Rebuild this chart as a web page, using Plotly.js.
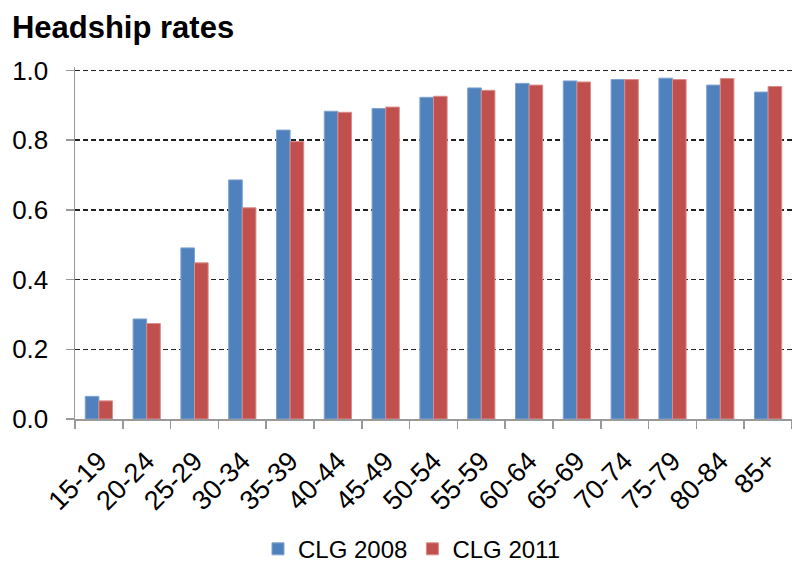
<!DOCTYPE html>
<html>
<head>
<meta charset="utf-8">
<script src="https://cdn.plot.ly/plotly-3.0.1.min.js"></script>
<style>html,body{margin:0;padding:0;background:#fff;}#chart{width:792px;height:566px;}</style>
</head>
<body>
<div id="chart"></div>
<script>
const categories = ["15-19","20-24","25-29","30-34","35-39","40-44","45-49","50-54","55-59","60-64","65-69","70-74","75-79","80-84","85+"];
const clg2008 = [0.065,0.287,0.491,0.686,0.829,0.883,0.891,0.923,0.950,0.963,0.970,0.974,0.978,0.958,0.938];
const clg2011 = [0.052,0.274,0.448,0.606,0.796,0.880,0.895,0.926,0.943,0.958,0.967,0.974,0.974,0.977,0.954];
const yTicks = [0,0.2,0.4,0.6,0.8,1.0];
const yTickLabels = ["0.0","0.2","0.4","0.6","0.8","1.0"];

const font = "Liberation Sans, Arial, sans-serif";
const data = [
  {type:"bar", name:"CLG 2008", x:categories, y:clg2008, marker:{color:"#4F81BD", line:{color:"#7FA3D1", width:1}}},
  {type:"bar", name:"CLG 2011", x:categories, y:clg2011, marker:{color:"#C0504D", line:{color:"#D98C8A", width:1}}}
];
const layout = {
  width:792, height:566,
  margin:{l:75, r:0, t:67, b:147, autoexpand:false},
  paper_bgcolor:"#fff", plot_bgcolor:"#fff",
  barmode:"group", bargap:0.43, bargroupgap:0,
  title:{text:"<b>Headship rates</b>", x:0.015, xanchor:"left", y:0.952, yanchor:"middle", font:{family:font, size:31, color:"#000"}, automargin:false},
  font:{family:font, size:25, color:"#000"},
  xaxis:{
    type:"category", tickangle:-45, tickson:"boundaries", automargin:false,
    ticks:"outside", ticklen:8, tickcolor:"#999", tickwidth:1.5,
    showline:true, linecolor:"#999", linewidth:1.5,
    showgrid:false, tickfont:{family:font, size:27, color:"#000"},
    ticklabelstandoff:14,
    range:[-0.5, 14.5]
  },
  yaxis:{
    range:[0,1.01], tickvals:yTicks, ticktext:yTickLabels, automargin:false,
    ticks:"outside", ticklen:8, tickcolor:"#999", tickwidth:1.5,
    showline:true, linecolor:"#999", linewidth:1.5,
    showgrid:true, gridcolor:"#222", gridwidth:1.5, griddash:"5px,3px",
    zeroline:false, tickfont:{family:font, size:26, color:"#000"},
    ticklabelstandoff:12
  },
  showlegend:true,
  legend:{orientation:"h", x:0.47, xanchor:"center", y:-0.37, yanchor:"middle", font:{family:font, size:24, color:"#000"}, itemwidth:30, traceorder:"normal"}
};
Plotly.newPlot("chart", data, layout, {displayModeBar:false, staticPlot:true});
</script>
</body>
</html>
